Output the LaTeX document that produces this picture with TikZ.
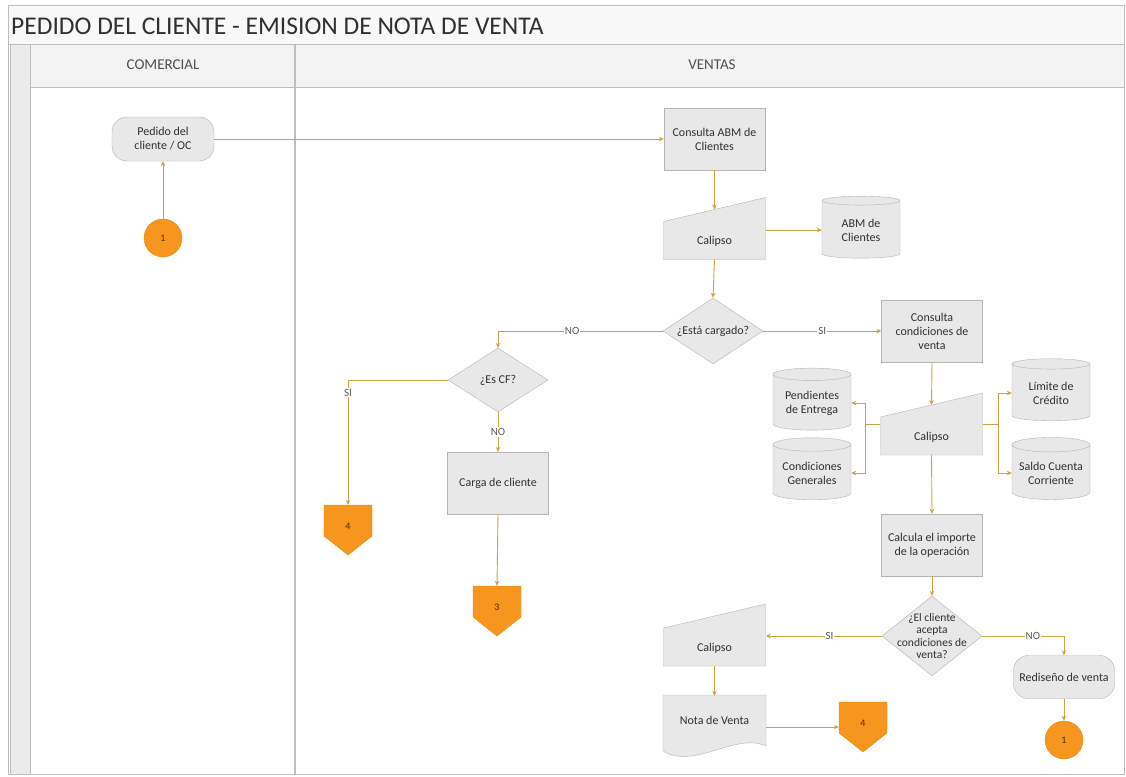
\documentclass[tikz,border=0pt]{standalone}
\usepackage{fontspec}
\setmainfont{Carlito}
\usetikzlibrary{shapes.geometric,arrows.meta}

\definecolor{frameline}{HTML}{BDBDBD}
\definecolor{headfill}{HTML}{F3F3F3}
\definecolor{stripfill}{HTML}{EBEBEB}
\definecolor{boxfill}{HTML}{E8E8E8}
\definecolor{boxline}{HTML}{B4B4B4}
\definecolor{flow}{HTML}{C9A444}
\definecolor{conn}{HTML}{F7961E}
\definecolor{connline}{HTML}{E8890F}
\definecolor{inktext}{HTML}{303030}

% manual-input symbol labelled "Calipso": name, centre x, centre y
\newcommand{\calipsobox}[3]{%
  \filldraw[fill=boxfill,draw=boxline] ({#2-51},{#3-7}) -- ({#2+51},{#3-31})
     -- ({#2+51},{#3+31}) -- ({#2-51},{#3+31}) -- cycle;
  \node[ghost,minimum width=102pt,minimum height=62pt] (#1) at (#2,#3) {};
  \node[txt] (#1-t) at (#2,{#3+13}) {Calipso};
  \coordinate (#1-top) at (#2,{#3-19});
}
% off-page connector: name, centre x, top y, label
\newcommand{\offpageconn}[4]{%
  \filldraw[fill=conn,draw=connline] ({#2-24},#3) -- ({#2+24},#3) -- ({#2+24},{#3+31})
     -- (#2,{#3+50}) -- ({#2-24},{#3+31}) -- cycle;
  \node[ghost,minimum width=48pt,minimum height=50pt] (#1) at (#2,{#3+25}) {};
  \node[conntext] (#1-t) at (#2,{#3+21}) {#4};
}

\begin{document}
\begin{tikzpicture}[x=1pt,y=-1pt,
  txt/.style={font=\fontsize{12}{14}\selectfont,text=inktext,align=center,inner sep=1pt},
  ghost/.style={rectangle,draw=none,inner sep=0pt},
  proc/.style={txt,rectangle,draw=boxline,fill=boxfill,minimum width=101pt,minimum height=62pt,inner sep=2pt},
  term/.style={txt,rectangle,rounded corners=15pt,draw=boxline,fill=boxfill,minimum width=102pt,minimum height=44pt},
  dec/.style={diamond,draw=boxline,fill=boxfill,inner sep=0pt},
  db/.style={txt,cylinder,shape border rotate=90,aspect=0.22,draw=boxline,fill=boxfill,minimum width=78pt,minimum height=62pt},
  conntext/.style={font=\fontsize{10}{11}\selectfont,text=black!70!conn,inner sep=0pt},
  circ/.style={circle,fill=conn,draw=connline,minimum size=38pt,inner sep=0pt,font=\fontsize{10}{11}\selectfont,text=black!70!conn},
  flowline/.style={draw=flow,line width=0.9pt},
  flowarr/.style={flowline,-{Stealth[length=5pt,width=4.5pt]}},
  lbl/.style={fill=white,inner sep=1pt,font=\fontsize{11}{12}\selectfont,text=inktext!80}
]
\useasboundingbox (0,0) rectangle (1126,776);
\fill[white] (0,0) rectangle (1126,776);

% pool frame, title band, lane headers
\fill[white] (8,5) rectangle (1124,774);
\fill[headfill!60] (8,5) rectangle (1124,44);
\fill[headfill] (30,44) rectangle (1124,87);
\fill[stripfill] (10,44) rectangle (30,774);
\draw[frameline,line width=0.8pt] (8,5) rectangle (1124,774);
\draw[frameline,line width=0.8pt] (8,44) -- (1124,44);
\draw[frameline,line width=0.8pt] (30,87) -- (1124,87);
\draw[frameline,line width=0.8pt] (10,44) -- (10,774);
\draw[frameline,line width=0.8pt] (30,44) -- (30,774);
\draw[frameline,line width=1.6pt] (295,44) -- (295,774);
\node[anchor=west,font=\fontsize{25.5}{28}\selectfont,text=inktext,inner sep=0pt] (title) at (11,26)
  {PEDIDO DEL CLIENTE - EMISION DE NOTA DE VENTA};
\node[font=\fontsize{15}{17}\selectfont,text=inktext!85] (laneA) at (163,65) {COMERCIAL};
\node[font=\fontsize{15}{17}\selectfont,text=inktext!85] (laneB) at (712,65) {VENTAS};

% COMERCIAL lane
\node[term] (ped) at (163,139) {Pedido del\\cliente / OC};
\node[circ] (c1) at (163,238) {1};

% VENTAS lane, upper branch
\node[proc] (cabm) at (714.5,139) {Consulta ABM de\\Clientes};
\calipsobox{cal1}{714.5}{228.5}
\node[db] (abm) at (861,230) {ABM de\\Clientes};
\node[dec,minimum width=100pt,minimum height=66pt] (est) at (713,331) {};
\node[txt] (est-t) at (713,331) {¿Está cargado?};

% client not loaded
\node[dec,minimum width=100pt,minimum height=64pt] (escf) at (498,380) {};
\node[txt] (escf-t) at (498,380) {¿Es CF?};
\node[proc] (carga) at (498,483) {Carga de cliente};
\offpageconn{pa}{348}{505}{4}
\offpageconn{pb}{497}{586}{3}

% client loaded: sale conditions
\node[proc] (ccv) at (932,331) {Consulta\\condiciones de\\venta};
\calipsobox{cal2}{931.5}{424}
\node[db] (pend) at (812,403) {Pendientes\\de Entrega};
\node[db] (cgen) at (812,473) {Condiciones\\Generales};
\node[db] (lim) at (1051,393) {Límite de\\Crédito};
\node[db] (saldo) at (1051,473) {Saldo Cuenta\\Corriente};
\node[proc] (calc) at (932,545) {Calcula el importe\\de la operación};
\node[dec,minimum width=100pt,minimum height=80pt] (acep) at (932,636) {};
\node[txt,font=\fontsize{11.5}{12.5}\selectfont] (acep-t) at (932,636) {¿El cliente\\acepta\\condiciones de\\venta?};

% accepted: sales note
\calipsobox{cal3}{714.5}{635}
\filldraw[fill=boxfill,draw=boxline] (663,695) -- (766,695) -- (766,746)
   .. controls (735,732) and (695,770) .. (663,751) -- cycle;
\node[ghost,minimum width=103pt,minimum height=62pt] (nota) at (714.5,727) {};
\node[txt] (nota-t) at (714.5,720) {Nota de Venta};
\offpageconn{pc}{863}{702}{4}

% not accepted
\node[term,minimum width=101pt,minimum height=43pt] (red) at (1064,677) {Rediseño de venta};
\node[circ] (c2) at (1064,740) {1};

% connectors
\draw[flowarr] (c1.north) -- (ped.south);
\draw[flowarr] (ped.east) -- (cabm.west);
\draw[flowarr] (cabm.south) -- (cal1-top);
\draw[flowarr] (cal1.east |- abm.west) -- (abm.west);
\draw[flowarr] (cal1.south) -- (est.north);
\draw[flowarr] (est.west) -- node[lbl,pos=0.55]{NO} (est.west -| escf.north) -- (escf.north);
\draw[flowarr] (est.east) -- node[lbl]{SI} (ccv.west);
\draw[flowarr] (escf.west) -| node[lbl,pos=0.55]{SI} (pa.north);
\draw[flowarr] (escf.south) -- node[lbl]{NO} (carga.north);
\draw[flowarr] (carga.south) -- (pb.north);
\draw[flowarr] (ccv.south) -- (cal2-top);
\draw[flowline] (cal2.west) -- ++(-15,0) coordinate (jl);
\draw[flowarr] (jl) |- (pend.east);
\draw[flowarr] (jl) |- (cgen.east);
\draw[flowline] (cal2.east) -- ++(16,0) coordinate (jr);
\draw[flowarr] (jr) |- (lim.west);
\draw[flowarr] (jr) |- (saldo.west);
\draw[flowarr] (cal2.south) -- (calc.north);
\draw[flowarr] (calc.south) -- (acep.north);
\draw[flowarr] (acep.west) -- node[lbl,pos=0.45]{SI} (acep.west -| cal3.east);
\draw[flowarr] (acep.east) -- node[lbl,pos=0.62]{NO} (acep.east -| red.north) -- (red.north);
\draw[flowarr] (red.south) -- (c2.north);
\draw[flowarr] (cal3.south) -- (nota.north);
\draw[flowarr] (nota.east |- pc.west) -- (pc.west);
\end{tikzpicture}
\end{document}
